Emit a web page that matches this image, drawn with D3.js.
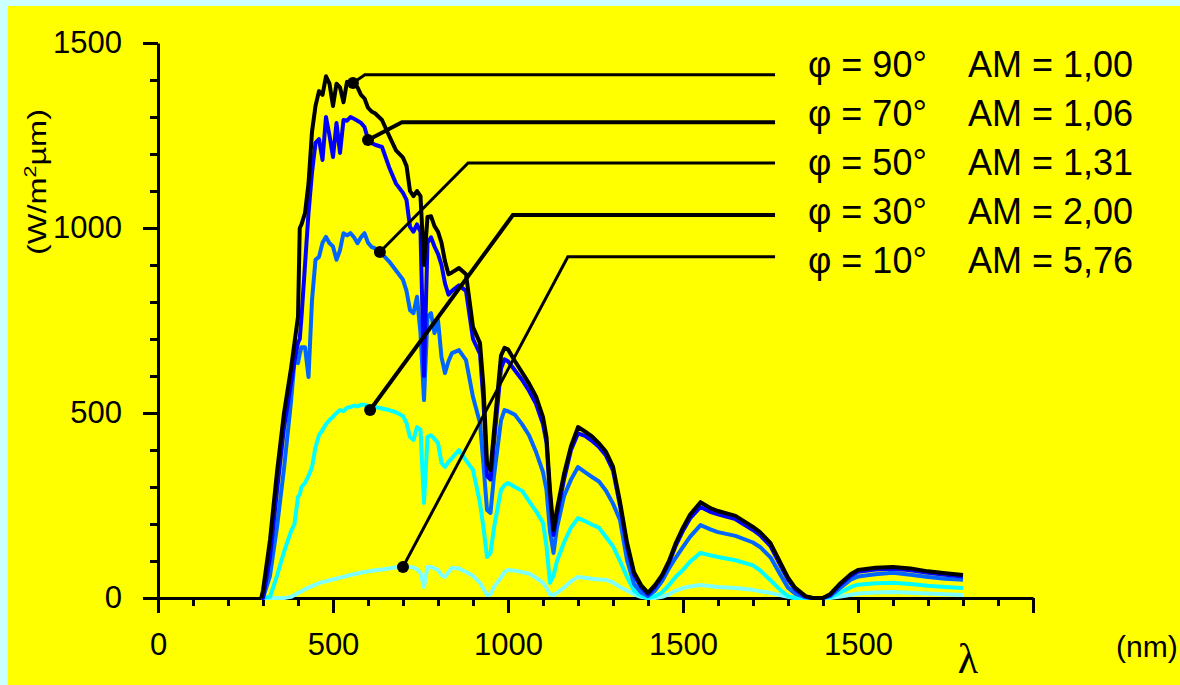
<!DOCTYPE html>
<html>
<head>
<meta charset="utf-8">
<script src="https://cdn.jsdelivr.net/npm/d3@7"></script>
<style>
  html, body { margin: 0; padding: 0; background: #ccffff; }
  svg { display: block; }
</style>
</head>
<body>
<div id="chart"></div>
<script>
// wavelength grid (nm), shared by all five spectra
const wavelengths = [295, 300, 320, 340, 360, 380, 390, 400, 405, 410, 420, 430, 440, 450, 460, 470, 480, 490, 500, 510,
  520, 530, 540, 550, 560, 570, 580, 590, 600, 610, 620, 640, 660, 680, 700, 710, 720, 730, 740, 750,
  760, 770, 780, 790, 800, 810, 820, 830, 840, 860, 880, 900, 920, 930, 940, 950, 960, 980, 990, 1000,
  1020, 1040, 1060, 1080, 1100, 1110, 1120, 1130, 1140, 1160, 1180, 1200, 1220, 1240, 1260, 1280, 1300, 1320, 1340, 1360,
  1380, 1400, 1420, 1440, 1460, 1480, 1500, 1520, 1550, 1580, 1600, 1650, 1700, 1720, 1750, 1780, 1800, 1820, 1850, 1870,
  1900, 1920, 1950, 1980, 2000, 2050, 2100, 2150, 2200, 2250, 2300];

// irradiance (W/m2 um)
const am100 = [0, 20, 157, 340, 500, 620, 690, 760, 1000, 1010, 1040, 1120, 1260, 1330, 1370, 1360, 1410, 1390, 1330, 1390,
  1380, 1340, 1395, 1390, 1390, 1380, 1360, 1350, 1325, 1315, 1310, 1292, 1250, 1210, 1190, 1168, 1100, 1086, 1100, 1086,
  900, 1030, 1032, 1005, 990, 960, 910, 875, 880, 892, 875, 732, 689, 570, 365, 346, 450, 655, 676, 672,
  640, 610, 580, 545, 489, 435, 292, 184, 240, 335, 410, 462, 450, 437, 418, 395, 355, 260, 150, 70,
  35, 14, 35, 62, 100, 150, 190, 225, 259, 242, 235, 222, 192, 178, 148, 92, 55, 28, 5, 0,
  0, 10, 40, 65, 76, 82, 84, 80, 72, 67, 62];
const am106 = [0, 0, 110, 290, 460, 580, 640, 690, 700, 760, 900, 1040, 1150, 1230, 1240, 1184, 1300, 1250, 1192, 1284,
  1203, 1292, 1290, 1300, 1295, 1290, 1284, 1273, 1240, 1230, 1225, 1219, 1165, 1120, 1095, 1076, 1003, 990, 1010, 990,
  600, 960, 975, 950, 930, 900, 850, 820, 830, 845, 830, 700, 660, 530, 330, 320, 420, 620, 645, 640,
  615, 590, 560, 525, 470, 420, 275, 170, 225, 320, 400, 445, 438, 425, 408, 385, 345, 250, 140, 62,
  30, 10, 30, 58, 95, 143, 182, 215, 246, 232, 226, 213, 184, 170, 140, 85, 50, 24, 3, 0,
  0, 8, 36, 60, 71, 77, 79, 75, 68, 63, 58];
const am131 = [0, 0, 60, 192, 350, 530, 640, 635, 660, 678, 678, 597, 805, 914, 922, 960, 976, 959, 950, 914,
  940, 986, 980, 986, 975, 959, 975, 986, 960, 949, 945, 930, 910, 885, 860, 830, 778, 770, 814, 716,
  535, 760, 770, 716, 751, 651, 608, 640, 662, 670, 643, 543, 473, 360, 238, 230, 330, 480, 508, 505,
  495, 470, 440, 395, 340, 292, 180, 122, 190, 275, 320, 354, 340, 327, 315, 290, 255, 211, 103, 38,
  15, 5, 20, 45, 80, 110, 138, 165, 197, 185, 178, 168, 150, 138, 110, 60, 28, 12, 2, 0,
  0, 5, 28, 50, 58, 64, 68, 63, 57, 52, 49];
const am200 = [0, 0, 3, 60, 125, 180, 200, 273, 280, 300, 311, 330, 354, 408, 440, 454, 470, 481, 490, 500,
  508, 505, 514, 516, 520, 518, 522, 522, 520, 518, 516, 512, 508, 502, 492, 473, 435, 427, 462, 455,
  257, 435, 440, 430, 419, 365, 354, 368, 378, 400, 372, 346, 257, 190, 111, 122, 190, 292, 305, 311,
  300, 290, 262, 235, 203, 140, 41, 60, 100, 150, 190, 216, 208, 198, 190, 165, 140, 100, 57, 20,
  6, 0, 5, 15, 35, 58, 76, 98, 122, 115, 111, 102, 88, 75, 48, 20, 5, 0, 0, 0,
  0, 2, 15, 30, 36, 40, 41, 38, 33, 30, 27];
const am576 = [0, 0, 0, 0, 0, 3, 8, 14, 16, 18, 24, 28, 32, 36, 40, 43, 45, 48, 50, 52,
  55, 57, 60, 62, 64, 66, 69, 70, 72, 73, 75, 77, 80, 83, 85, 84, 84, 82, 78, 68,
  30, 84, 84, 80, 76, 62, 57, 70, 82, 80, 70, 60, 41, 25, 8, 10, 30, 55, 70, 76,
  74, 70, 66, 55, 41, 28, 10, 8, 14, 28, 45, 57, 55, 52, 50, 49, 42, 30, 20, 10,
  3, 0, 0, 3, 10, 20, 27, 31, 35, 32, 30, 27, 22, 18, 14, 7, 3, 0, 0, 0,
  0, 0, 4, 9, 12, 15, 16, 14, 12, 10, 8];

const angleLabels = ["\u03c6 = 90\u00b0", "\u03c6 = 70\u00b0", "\u03c6 = 50\u00b0", "\u03c6 = 30\u00b0", "\u03c6 = 10\u00b0"];
const airMassLabels = ["AM = 1,00", "AM = 1,06", "AM = 1,31", "AM = 2,00", "AM = 5,76"];

// leader lines, in data units: level of the horizontal run, elbow wavelength, dot on the curve
const leaderLevel = [1414, 1286, 1176, 1035, 922];
const leaderElbow = [591, 697, 886, 1014, 1171];
const leaderDotX = [557, 600, 634, 606, 700];
const leaderDotY = [1392, 1238, 935, 508, 84];
const leaderEnd = 1763;

const yTicks = [0, 500, 1000, 1500];
const xTickLabels = ["0", "500", "1000", "1500", "1500", ""];

const series = [am100, am106, am131, am200, am576];
const colors = ["#000000", "#0000ff", "#0066ff", "#00ffff", "#80ffff"];
const leaderWidths = [3, 4, 3, 4, 3];

const width = 1180, height = 685;
const svg = d3.select("#chart").append("svg")
  .attr("width", width)
  .attr("height", height);

// cyan frame + yellow panel
svg.append("rect").attr("width", width).attr("height", height).attr("fill", "#ccffff");
svg.append("rect").attr("x", 8).attr("y", 6).attr("width", width - 8).attr("height", height - 6).attr("fill", "#ffff00");

const x = d3.scaleLinear().domain([0, 2500]).range([158, 1033]);
const y = d3.scaleLinear().domain([0, 1500]).range([598, 43]);

const tickFont = "'Liberation Sans', Arial, sans-serif";

// y axis: minor then major ticks
svg.append("g")
  .attr("transform", `translate(${x(0)},0)`)
  .call(d3.axisLeft(y).tickValues(d3.range(0, 1501, 100)).tickSize(8).tickSizeOuter(0).tickFormat(""))
  .call(g => g.selectAll("path, line").attr("stroke", "#000").attr("stroke-width", 3));
svg.append("g")
  .attr("transform", `translate(${x(0)},0)`)
  .call(d3.axisLeft(y).tickValues(yTicks).tickSize(15).tickSizeOuter(0).tickPadding(21).tickFormat(d3.format("d")))
  .call(g => g.select(".domain").remove())
  .call(g => g.selectAll("line").attr("stroke", "#000").attr("stroke-width", 3))
  .call(g => g.selectAll("text").attr("font-family", tickFont).attr("font-size", 31).attr("fill", "#000"));

// x axis
svg.append("g")
  .attr("transform", `translate(0,${y(0)})`)
  .call(d3.axisBottom(x).tickValues(d3.range(0, 2501, 100)).tickSize(8).tickSizeOuter(0).tickFormat(""))
  .call(g => g.selectAll("path, line").attr("stroke", "#000").attr("stroke-width", 3));
svg.append("g")
  .attr("transform", `translate(0,${y(0)})`)
  .call(d3.axisBottom(x).tickValues(d3.range(0, 2501, 500)).tickSize(15).tickSizeOuter(0).tickPadding(20)
    .tickFormat((d, i) => xTickLabels[i]))
  .call(g => g.select(".domain").remove())
  .call(g => g.selectAll("line").attr("stroke", "#000").attr("stroke-width", 3))
  .call(g => g.selectAll("text").attr("font-family", tickFont).attr("font-size", 31).attr("fill", "#000"));

// spectra, lightest first so black ends on top
const line = d3.line()
  .x((d, i) => x(wavelengths[i]))
  .y(d => y(d));

d3.range(series.length).reverse().forEach(k => {
  svg.append("path")
    .datum(series[k])
    .attr("d", line)
    .attr("fill", "none")
    .attr("stroke", colors[k])
    .attr("stroke-width", 4)
    .attr("stroke-linejoin", "round");
});

// leader lines with dots
const leaders = svg.append("g");
leaderLevel.forEach((lv, i) => {
  leaders.append("polyline")
    .attr("points", [
      [x(leaderEnd), y(lv)],
      [x(leaderElbow[i]), y(lv)],
      [x(leaderDotX[i]), y(leaderDotY[i])]
    ].map(p => p.join(",")).join(" "))
    .attr("fill", "none")
    .attr("stroke", "#000")
    .attr("stroke-width", leaderWidths[i]);
  leaders.append("circle")
    .attr("cx", x(leaderDotX[i]))
    .attr("cy", y(leaderDotY[i]))
    .attr("r", 6)
    .attr("fill", "#000");
});

// legend text
const legend = svg.append("g")
  .attr("font-family", "'Liberation Sans', Arial, sans-serif")
  .attr("font-size", 36)
  .attr("fill", "#000");
angleLabels.forEach((t, i) => {
  const by = 77 + i * 49;
  legend.append("text").attr("x", 808).attr("y", by).text(t);
  legend.append("text").attr("x", 968).attr("y", by).text(airMassLabels[i]);
});

// axis titles
const yTitle = svg.append("text")
  .attr("transform", "translate(46,182) rotate(-90)")
  .attr("text-anchor", "middle")
  .attr("font-family", "'Liberation Sans', Arial, sans-serif")
  .attr("font-size", 26)
  .attr("textLength", 146)
  .attr("lengthAdjust", "spacingAndGlyphs");
yTitle.append("tspan").text("(W/m");
yTitle.append("tspan").attr("font-size", 17).attr("dy", -10).text("2");
yTitle.append("tspan").attr("dy", 10).text("\u00b5m)");

svg.append("text")
  .attr("x", 1116).attr("y", 657)
  .attr("font-family", "'Liberation Sans', Arial, sans-serif")
  .attr("font-size", 30)
  .text("(nm)");

svg.append("text")
  .attr("x", 968).attr("y", 673)
  .attr("text-anchor", "middle")
  .attr("font-family", "'Liberation Serif', 'Times New Roman', serif")
  .attr("font-size", 42)
  .text("\u03bb");
</script>
</body>
</html>
